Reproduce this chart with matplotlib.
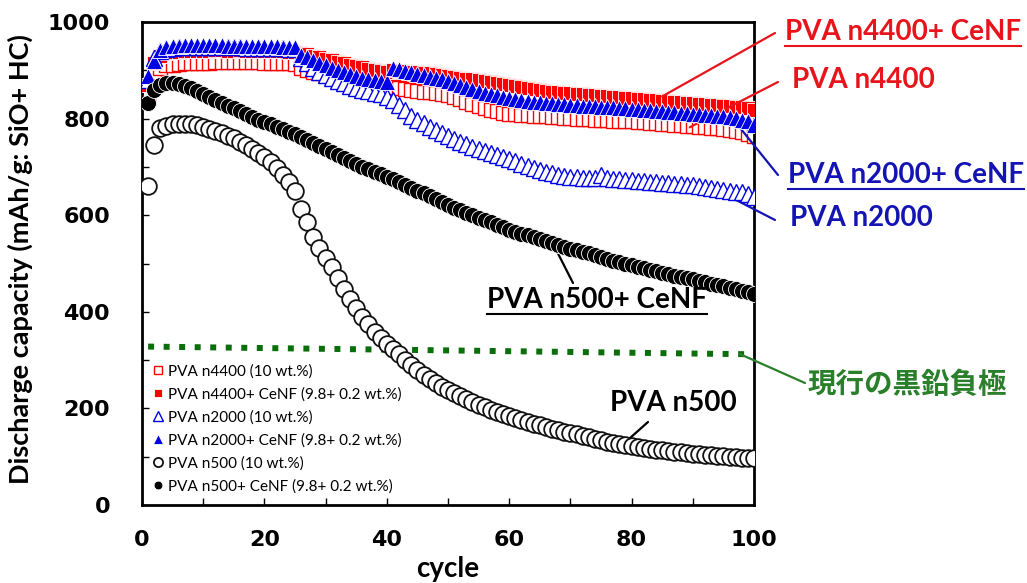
import numpy as np
import matplotlib.pyplot as plt
from matplotlib.ticker import MultipleLocator

plt.rcParams['font.family'] = ['Lato', 'Noto Sans CJK JP', 'DejaVu Sans']

cycles = np.arange(1, 101)

# discharge capacity, mAh/g (SiO + HC)
n4400 = [850, 890, 905, 910, 912, 914, 915, 915, 916, 916,
         916, 917, 917, 917, 917, 917, 917, 917, 917, 916,
         916, 916, 915, 915, 914, 905, 900, 897, 894, 891,
         888, 885, 882, 879, 876, 873, 870, 868, 866, 864,
         866, 864, 862, 860, 858, 856, 855, 853, 851, 849,
         845, 840, 835, 830, 826, 822, 818, 815, 812, 810,
         809, 808, 807, 806, 805, 805, 804, 803, 802, 801,
         800, 800, 799, 798, 797, 797, 796, 795, 795, 794,
         793, 792, 791, 790, 789, 788, 787, 786, 785, 784,
         783, 782, 781, 780, 779, 777, 775, 772, 769, 765]
n4400_cenf = [870, 915, 930, 935, 937, 938, 939, 940, 940, 940,
              940, 941, 941, 940, 940, 941, 940, 940, 940, 940,
              939, 939, 939, 938, 938, 936, 933, 930, 927, 924,
              921, 918, 915, 912, 909, 906, 903, 900, 898, 896,
              900, 899, 898, 897, 896, 895, 894, 893, 891, 889,
              887, 885, 883, 881, 879, 877, 875, 873, 871, 869,
              867, 865, 863, 861, 859, 858, 856, 855, 853, 852,
              851, 850, 849, 848, 847, 846, 845, 844, 843, 842,
              841, 840, 839, 838, 837, 836, 835, 834, 833, 832,
              831, 830, 829, 828, 827, 826, 825, 823, 821, 818]
n2000 = [880, 925, 940, 945, 947, 948, 948, 949, 949, 949,
         949, 948, 948, 948, 948, 948, 947, 947, 947, 947,
         946, 946, 946, 945, 945, 925, 915, 905, 897, 890,
         884, 878, 873, 868, 864, 860, 857, 853, 850, 845,
         838, 828, 817, 806, 797, 790, 782, 776, 770, 764,
         758, 752, 747, 742, 737, 733, 729, 725, 721, 717,
         712, 707, 702, 698, 694, 690, 687, 684, 682, 680,
         679, 678, 677, 677, 684, 676, 675, 674, 673, 672,
         671, 670, 669, 668, 667, 666, 665, 664, 663, 662,
         661, 659, 657, 655, 653, 651, 649, 647, 644, 638]
n2000_cenf = [888, 920, 942, 948, 950, 951, 952, 952, 952, 952,
              952, 952, 952, 951, 951, 951, 951, 951, 950, 950,
              950, 950, 949, 949, 948, 932, 927, 921, 915, 910,
              905, 900, 896, 892, 888, 885, 882, 879, 877, 875,
              905, 902, 899, 896, 893, 890, 887, 884, 881, 878,
              874, 870, 866, 862, 858, 854, 851, 848, 845, 842,
              840, 838, 836, 835, 834, 833, 832, 831, 830, 829,
              828, 827, 826, 826, 825, 824, 823, 822, 821, 820,
              819, 818, 817, 816, 815, 814, 813, 812, 811, 810,
              809, 808, 807, 806, 805, 803, 801, 798, 794, 786]
n500 = [660, 745, 780, 785, 788, 789, 789, 788, 786, 783,
        779, 775, 770, 765, 759, 752, 745, 737, 729, 720,
        710, 698, 684, 668, 650, 612, 585, 555, 532, 512,
        492, 470, 448, 426, 407, 390, 374, 359, 346, 334,
        323, 312, 300, 289, 279, 270, 261, 253, 245, 238,
        231, 225, 219, 213, 207, 202, 197, 192, 188, 184,
        180, 176, 172, 168, 165, 161, 158, 155, 152, 149,
        146, 143, 140, 137, 134, 131, 128, 126, 124, 122,
        120, 118, 116, 114, 113, 111, 110, 109, 107, 106,
        105, 104, 103, 102, 101, 100, 99, 98, 97, 97]
n500_cenf = [832, 860, 870, 874, 874, 872, 868, 863, 857, 851,
             845, 839, 833, 827, 821, 815, 809, 803, 798, 793,
             788, 783, 778, 773, 768, 762, 756, 750, 744, 737,
             730, 724, 718, 712, 706, 700, 695, 690, 685, 680,
             675, 669, 663, 657, 651, 645, 639, 633, 627, 621,
             615, 610, 605, 600, 595, 590, 585, 580, 575, 570,
             566, 562, 558, 555, 551, 547, 543, 539, 535, 531,
             528, 524, 521, 517, 513, 510, 506, 503, 499, 496,
             493, 490, 487, 484, 481, 478, 475, 472, 469, 467,
             464, 461, 458, 456, 453, 450, 447, 444, 441, 436]

# conventional graphite anode reference level
graphite_cycles = [1, 100]
graphite = [328, 312]

labels = ['PVA n4400 (10 wt.%)', 'PVA n4400+ CeNF (9.8+ 0.2 wt.%)',
          'PVA n2000 (10 wt.%)', 'PVA n2000+ CeNF (9.8+ 0.2 wt.%)',
          'PVA n500 (10 wt.%)', 'PVA n500+ CeNF (9.8+ 0.2 wt.%)']

RED = '#ff0000'
BLUE = '#0000e6'
TRED = '#e8141c'
TBLUE = '#1414b4'
GREEN = '#0a6e0a'
TGREEN = '#2a7f2a'

fig = plt.figure(figsize=(10.27, 5.83), dpi=100)
ax = fig.add_axes([142/1027, 78/583, 612/1027, 483/583])

ax.plot(graphite_cycles, graphite, color=GREEN, lw=4.3,
        linestyle=(0, (1, 1.6)), solid_capstyle='butt', dash_capstyle='butt', zorder=1)

h1, = ax.plot(cycles, n4400, 's', ms=10.5, mfc='white', mec=RED, mew=1.0, label=labels[0], zorder=2)
h2, = ax.plot(cycles, n4400_cenf, 's', ms=10.5, mfc=RED, mec='white', mew=0.6, label=labels[1], zorder=3)
h3, = ax.plot(cycles, n2000, '^', ms=12, mfc='white', mec=BLUE, mew=1.0, label=labels[2], zorder=4)
h4, = ax.plot(cycles, n2000_cenf, '^', ms=12, mfc=BLUE, mec='white', mew=0.6, label=labels[3], zorder=5)
h5, = ax.plot(cycles, n500, 'o', ms=12, mfc='white', mec='#111111', mew=1.3, label=labels[4], zorder=6)
h6, = ax.plot(cycles, n500_cenf, 'o', ms=11.5, mfc='black', mec='white', mew=0.6, label=labels[5], zorder=7)

ax.set_xlim(0, 100)
ax.set_ylim(0, 1000)
ax.xaxis.set_major_locator(MultipleLocator(20))
ax.xaxis.set_minor_locator(MultipleLocator(10))
ax.yaxis.set_major_locator(MultipleLocator(200))
ax.yaxis.set_minor_locator(MultipleLocator(100))
ax.tick_params(which='both', direction='in', length=5, width=1, top=False, right=False)
ax.tick_params(axis='x', which='major', pad=18)
ax.tick_params(axis='y', which='major', pad=23)
for lab in ax.get_xticklabels() + ax.get_yticklabels():
    lab.set_family('DejaVu Sans')
    lab.set_fontweight('bold')
    lab.set_fontsize(16)
for sp in ax.spines.values():
    sp.set_linewidth(2)

ax.set_xlabel('cycle', fontsize=20, fontweight='bold', va='top')
ax.xaxis.set_label_coords(0.5, -0.105)
ax.set_ylabel('Discharge capacity (mAh/g: SiO+ HC)', fontsize=19.5, fontweight='bold')
ax.yaxis.set_label_coords(-0.178, 0.51)

leg = ax.legend(handles=[h1, h2, h3, h4, h5, h6], loc='lower left',
                bbox_to_anchor=(0.0, 0.0), frameon=False, fontsize=11,
                markerscale=0.55, handlelength=0.6, handletextpad=0.35,
                labelspacing=0.57, borderaxespad=0.35)


def note(text, px, py, color, end, xy, size=20, underline=False):
    # label placed in figure pixels (y measured from the top), leader line to the data
    t = fig.text(px / 1027, 1 - py / 583, text, color=color, fontsize=size,
                 fontweight='bold', ha='left', va='center')
    ax.annotate('', xy=xy, xycoords='data',
                xytext=(end[0], 583 - end[1]), textcoords='figure pixels',
                arrowprops=dict(arrowstyle='-', color=color, lw=1.6, shrinkA=0, shrinkB=0),
                annotation_clip=False)
    if underline:
        fig.canvas.draw()
        bb = t.get_window_extent()
        yline = bb.y0 - 1
        fig.add_artist(plt.Line2D([bb.x0 / 1027, bb.x1 / 1027], [yline / 583, yline / 583],
                                  color=color, lw=1.5, transform=fig.transFigure))
    return t


note('PVA n4400+ CeNF', 785, 32, TRED, (775, 33), (85, 846), underline=True)
note('PVA n4400', 792, 80, TRED, (778, 82), (89.5, 782))
note('PVA n2000+ CeNF', 788, 175, TBLUE, (778, 175), (96.5, 800), underline=True)
note('PVA n2000', 790, 218, TBLUE, (775, 220), (92.7, 660))
note('PVA n500+ CeNF', 487, 300, 'black', (573, 283), (67, 545), underline=True)
note('PVA n500', 610, 403, 'black', (648, 422), (78.8, 128))
note('現行の黒鉛負極', 808, 384, TGREEN, (805, 383), (97.6, 313), size=20.5)

fig.savefig('out.png', dpi=100)
